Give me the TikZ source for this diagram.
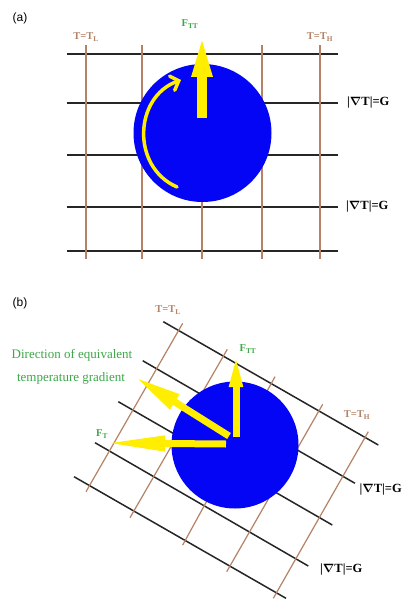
\documentclass[tikz,border=0pt]{standalone}
\usepackage{fontspec}
\setmainfont{Liberation Serif}
\setsansfont{Liberation Sans}
\usetikzlibrary{arrows.meta}
\definecolor{gridbrown}{RGB}{181,130,102}
\definecolor{labgreen}{RGB}{60,168,72}
\definecolor{arryellow}{RGB}{255,238,0}
\definecolor{discblue}{RGB}{5,5,245}
\newcommand{\gradG}{\textbf{|}{\boldmath$\nabla$}\textbf{T|=G}}
\begin{document}
\begin{tikzpicture}[x=1pt,y=-1pt,
  isoline/.style={line width=1.5pt, draw=black!85},
  tline/.style={line width=1.2pt, draw=gridbrown},
  disc/.style={fill=discblue},
  tlabel/.style={text=gridbrown, font=\fontsize{10.5}{12}\selectfont\bfseries, inner sep=0},
  glabel/.style={font=\fontsize{12.5}{15}\selectfont, inner sep=0, anchor=west},
  flabel/.style={text=labgreen, font=\fontsize{10.5}{12}\selectfont\bfseries, inner sep=0},
  dlabel/.style={text=labgreen, font=\fontsize{13}{15}\selectfont, inner sep=0},
  panel/.style={font=\sffamily\fontsize{12}{14}\selectfont, inner sep=0},
  force/.style={draw=arryellow, line width=7pt}
]
\useasboundingbox (0,0) rectangle (403,599);
\fill[white] (0,0) rectangle (403,599);

% ---------------- panel (a) ----------------
\node[panel] (pa) at (20,18) {(a)};
\foreach \y in {54,103,155,207,251}
  \draw[isoline] (67,\y) -- (338,\y);
\foreach \x in {86,142,202,262,320}
  \draw[tline] (\x,45) -- (\x,259);
\fill[disc] (202.5,133) circle[radius=69pt];
\coordinate (a0) at (202,118);
\coordinate (a1) at (202,33);
\draw[draw=arryellow, line width=10pt, -{Triangle[width=18pt,length=44pt]}] (a0) -- (a1);
\coordinate (r0) at (177,187);
\coordinate (r1) at (181,80);
\draw[draw=arryellow, line width=3.5pt, line cap=round,
  -{Straight Barb[length=7pt,width=15pt,line cap=round]}]
  (r0) .. controls (131,167) and (134,97) .. (r1);
\node[flabel] (fa) at (190,24) {F\textsubscript{TT}};
\node[tlabel] (tla) at (86,37) {T=T\textsubscript{L}};
\node[tlabel] (tha) at (320,37) {T=T\textsubscript{H}};
\node[glabel] (ga1) at (347,103) {\gradG};
\node[glabel] (ga2) at (346,207) {\gradG};

% ---------------- panel (b) ----------------
\node[panel] (pb) at (20,303) {(b)};
\draw[isoline] (163.3,321.7) -- (378.3,445);
\draw[isoline] (142.7,360.7) -- (355,483.3);
\draw[isoline] (118.3,401.7) -- (332.3,525);
\draw[isoline] (95,442.7) -- (308.3,566);
\draw[isoline] (74,476.7) -- (286,598.3);
\draw[tline] (86,491.7) -- (182.7,323.3);
\draw[tline] (130,517.7) -- (227.3,349.3);
\draw[tline] (182.7,545) -- (275,376.7);
\draw[tline] (226.7,571.7) -- (322.7,404.3);
\draw[tline] (273.3,598.3) -- (368.3,431.7);
\fill[disc] (235,445) circle[radius=63.5pt];
\coordinate (b0) at (236,437);
\coordinate (b1) at (236,353);
\coordinate (c0) at (229,436);
\coordinate (c1) at (135,377);
\coordinate (d0) at (226,444);
\coordinate (d1) at (103,443);
\draw[force, -{Triangle[width=12pt,length=34pt]}] (b0) -- (b1);
\draw[force, -{Triangle[width=16pt,length=47pt]}] (c0) -- (c1);
\draw[force, -{Triangle[width=14pt,length=62pt]}] (d0) -- (d1);
\node[tlabel] (tlb) at (168,310) {T=T\textsubscript{L}};
\node[tlabel] (thb) at (357,415) {T=T\textsubscript{H}};
\node[flabel] (fb) at (248,349) {F\textsubscript{TT}};
\node[flabel] (ftb) at (102,434) {F\textsubscript{T}};
\node[dlabel] (dir1) at (72,355) {Direction of equivalent};
\node[dlabel] (dir2) at (71,378) {temperature gradient};
\node[glabel, anchor=east] (gb1) at (402,490) {\gradG};
\node[glabel] (gb2) at (320,570) {\gradG};
\end{tikzpicture}
\end{document}
